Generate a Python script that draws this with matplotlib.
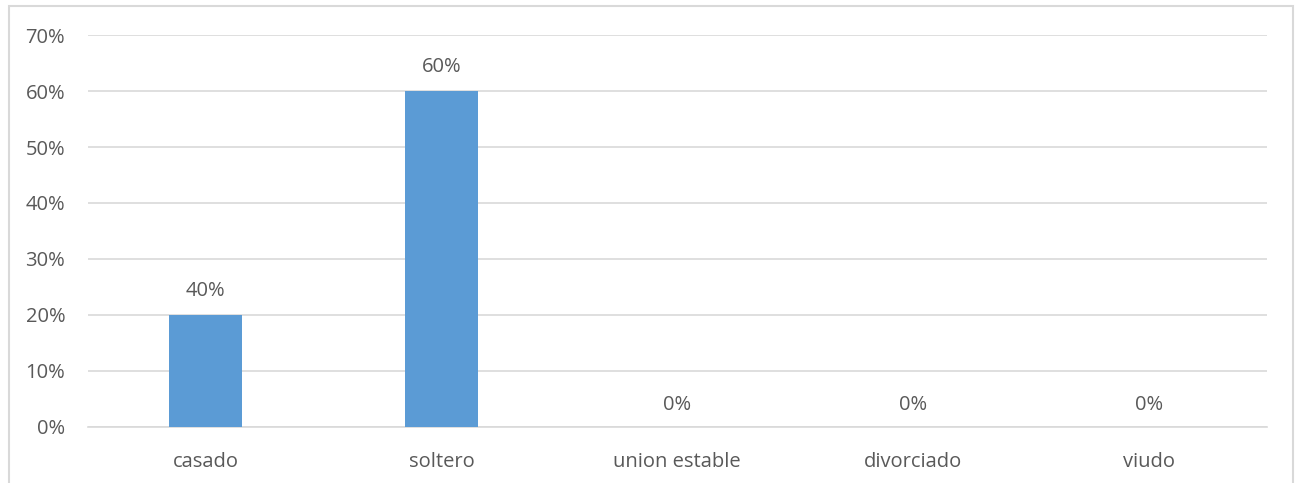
import matplotlib
matplotlib.use("Agg")
import matplotlib.pyplot as plt
from matplotlib.patches import Rectangle
from matplotlib.ticker import PercentFormatter

categories = ["casado", "soltero", "union estable", "divorciado", "viudo"]
values = [0.20, 0.60, 0.0, 0.0, 0.0]
value_labels = ["40%", "60%", "0%", "0%", "0%"]
y_ticks = [0.0, 0.1, 0.2, 0.3, 0.4, 0.5, 0.6, 0.7]

plt.rcParams["font.family"] = ["Open Sans", "DejaVu Sans"]
text_color = "#595959"
grid_color = "#d9d9d9"
bar_color = "#5b9bd5"
fs = 14.5

fig = plt.figure(figsize=(12.95, 4.83), dpi=100)
ax = fig.add_axes([0.068, 0.116, 0.910, 0.8115])

x = list(range(len(categories)))
bars = ax.bar(x, values, width=0.31, color=bar_color, zorder=3)

ax.set_xlim(-0.5, len(categories) - 0.5)
ax.set_ylim(0, 0.7)
ax.set_yticks(y_ticks)
ax.yaxis.set_major_formatter(PercentFormatter(1.0, decimals=0))
ax.set_xticks(x)
ax.set_xticklabels(categories)

ax.grid(axis="y", color=grid_color, linewidth=1.2, zorder=0)
for side in ("top", "right", "left"):
    ax.spines[side].set_visible(False)
ax.spines["bottom"].set_color(grid_color)
ax.spines["bottom"].set_linewidth(1.2)
ax.tick_params(axis="both", length=0, labelsize=fs, colors=text_color)
ax.tick_params(axis="x", pad=18)
ax.tick_params(axis="y", pad=16.5)

for rect, label in zip(bars, value_labels):
    h = rect.get_height()
    ax.annotate(label, (rect.get_x() + rect.get_width() / 2, h),
                xytext=(0, 17.3 if h > 0 else 16), textcoords="offset points",
                ha="center", va="center", fontsize=fs, color=text_color)

# light chart-area border
fig.patches.append(Rectangle((9 / 1295, -0.05), 1284 / 1295, 1.05 - 6 / 483,
                             transform=fig.transFigure, fill=False,
                             edgecolor=grid_color, linewidth=1.5))

fig.savefig("out.png", dpi=100)
